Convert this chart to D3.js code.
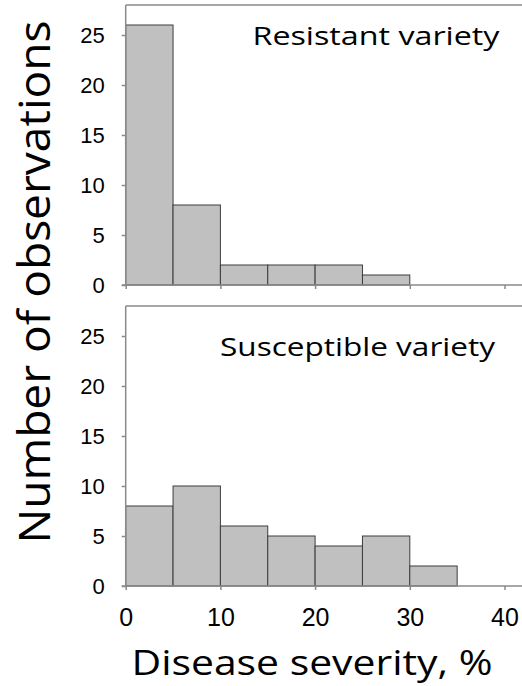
<!DOCTYPE html>
<html>
<head>
<meta charset="utf-8">
<script src="https://cdn.jsdelivr.net/npm/d3@7"></script>
<style>
  body { margin: 0; background: #fff; }
  #chart { width: 522px; height: 686px; }
</style>
</head>
<body>
<div id="chart"></div>
<script>
// histogram bins (lower edge, %), counts per bin
const binStarts = [0, 5, 10, 15, 20, 25, 30, 35];
const binWidth = 5;
const resistantCounts = [26, 8, 2, 2, 2, 1, 0, 0];
const susceptibleCounts = [8, 10, 6, 5, 4, 5, 2, 0];
const yTicks = [0, 5, 10, 15, 20, 25];
const xTicks = [0, 10, 20, 30, 40];
const panelNames = ["Resistant variety", "Susceptible variety"];
const yTitle = "Number of observations";
const xTitle = "Disease severity, %";

const W = 522, H = 686;
const svg = d3.select("#chart").append("svg")
  .attr("width", W).attr("height", H);

const x = d3.scaleLinear().domain([0, 40]).range([125.7, 504.5]);

const panels = [
  { counts: resistantCounts, name: panelNames[0], top: 5, bottom: 285, lx: 252.5, ly: 45, lw: 247, showX: false },
  { counts: susceptibleCounts, name: panelNames[1], top: 306, bottom: 586, lx: 220, ly: 356, lw: 275, showX: true }
];

const axisColor = "#8a8a8a";

panels.forEach((p) => {
  const y = d3.scaleLinear().domain([0, 28]).range([p.bottom, p.top]);
  const g = svg.append("g");

  // bars
  const bins = binStarts.map((s, i) => ({ x0: s, x1: s + binWidth, n: p.counts[i] }))
    .filter((d) => d.n > 0);
  g.append("g").selectAll("rect")
    .data(bins)
    .join("rect")
    .attr("x", (d) => x(d.x0))
    .attr("y", (d) => y(d.n))
    .attr("width", (d) => x(d.x1) - x(d.x0))
    .attr("height", (d) => y(0) - y(d.n))
    .attr("fill", "#c0c0c0")
    .attr("stroke", "#3c3c3c")
    .attr("stroke-width", 1);

  // frame: top + left + bottom running to the right edge
  g.append("line")
    .attr("x1", x(0)).attr("x2", W)
    .attr("y1", p.top).attr("y2", p.top)
    .attr("stroke", axisColor).attr("stroke-width", 1.5);
  g.append("line")
    .attr("x1", x(0)).attr("x2", x(0))
    .attr("y1", p.top).attr("y2", p.bottom)
    .attr("stroke", axisColor).attr("stroke-width", 1.5);
  g.append("line")
    .attr("x1", x(0) - 4).attr("x2", W)
    .attr("y1", p.bottom).attr("y2", p.bottom)
    .attr("stroke", axisColor).attr("stroke-width", 1.5);

  // y axis
  const ya = g.append("g")
    .attr("transform", `translate(${x(0)},0)`)
    .call(d3.axisLeft(y).tickValues(yTicks).tickSize(4).tickSizeOuter(0).tickPadding(17));
  ya.select(".domain").remove();
  ya.selectAll(".tick line").attr("stroke", axisColor).attr("stroke-width", 1.5);
  ya.selectAll(".tick text")
    .attr("font-family", "'Liberation Sans', Arial, sans-serif")
    .attr("font-size", 22)
    .attr("fill", "#000");

  // x axis
  const xa = g.append("g")
    .attr("transform", `translate(0,${p.bottom})`)
    .call(d3.axisBottom(x).tickValues(xTicks).tickSize(4).tickSizeOuter(0).tickPadding(18));
  xa.select(".domain").remove();
  xa.selectAll(".tick line").attr("stroke", axisColor).attr("stroke-width", 1.5);
  xa.selectAll(".tick text")
    .attr("font-family", "'Liberation Sans', Arial, sans-serif")
    .attr("font-size", 25)
    .attr("fill", "#000");
  if (!p.showX) xa.selectAll(".tick text").remove();

  // panel label
  g.append("text")
    .attr("x", p.lx).attr("y", p.ly)
    .attr("font-family", "'Open Sans', sans-serif")
    .attr("font-size", 25)
    .attr("textLength", p.lw)
    .attr("lengthAdjust", "spacingAndGlyphs")
    .attr("fill", "#000")
    .text(p.name);
});

// axis titles
svg.append("text")
  .attr("transform", "translate(50,282) rotate(-90)")
  .attr("text-anchor", "middle")
  .attr("font-family", "'Open Sans', sans-serif")
  .attr("font-size", 44)
  .attr("textLength", 523)
  .attr("lengthAdjust", "spacingAndGlyphs")
  .attr("fill", "#000")
  .text(yTitle);

svg.append("text")
  .attr("x", 131.5).attr("y", 675)
  .attr("font-family", "'Open Sans', sans-serif")
  .attr("font-size", 35)
  .attr("textLength", 361)
  .attr("lengthAdjust", "spacingAndGlyphs")
  .attr("fill", "#000")
  .text(xTitle);
</script>
</body>
</html>
